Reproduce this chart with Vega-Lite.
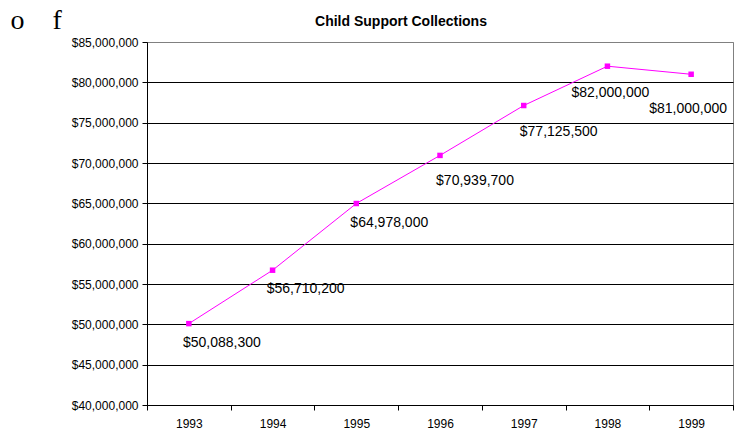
{
  "$schema": "https://vega.github.io/schema/vega-lite/v6.json",
  "width": 586,
  "height": 363,
  "autosize": {"type": "none"},
  "padding": {"left": 147, "top": 42, "right": 6, "bottom": 25},
  "background": "white",
  "config": {"view": {"stroke": "#808080", "strokeWidth": 1}, "font": "Liberation Sans"},
  "title": {"text": "Child Support Collections", "font": "Liberation Sans", "fontSize": 14, "fontWeight": "bold", "color": "#000000", "anchor": "middle", "frame": "group", "dx": -39, "baseline": "alphabetic", "offset": -34},
  "data": {"values": [
    {"year": "1993", "amount": 50088300},
    {"year": "1994", "amount": 56710200},
    {"year": "1995", "amount": 64978000},
    {"year": "1996", "amount": 70939700},
    {"year": "1997", "amount": 77125500},
    {"year": "1998", "amount": 82000000},
    {"year": "1999", "amount": 81000000}
  ]},
  "encoding": {
    "x": {"field": "year", "type": "ordinal", "bandPosition": 0.5,
      "scale": {"type": "band", "paddingInner": 0, "paddingOuter": 0},
      "axis": {"title": null, "labelAngle": 0, "tickBand": "extent", "grid": false, "tickSize": 5, "tickColor": "#000000", "domainColor": "#000000", "labelFont": "Liberation Sans", "labelFontSize": 12, "labelColor": "#000000", "labelPadding": 8}},
    "y": {"field": "amount", "type": "quantitative",
      "scale": {"domain": [40000000, 85000000], "nice": false, "zero": false},
      "axis": {"values": [40000000, 45000000, 50000000, 55000000, 60000000, 65000000, 70000000, 75000000, 80000000, 85000000],
        "format": "$,.0f", "labelFont": "Liberation Sans", "labelFontSize": 12, "labelColor": "#000000", "labelPadding": 4,
        "tickSize": 5, "tickColor": "#000000", "domainColor": "#000000",
        "grid": true, "gridColor": {"condition": {"test": "datum.value == 85000000", "value": "#808080"}, "value": "#000000"}, "gridOpacity": 1,
        "title": "o\u00a0\u00a0\u00a0\u00a0f", "titleFont": "Liberation Serif", "titleFontSize": 28, "titleFontWeight": "normal", "titleColor": "#000000",
        "titleAngle": 0, "titleAlign": "left", "titleBaseline": "alphabetic", "titleX": -137, "titleY": -14}}
  },
  "layer": [
    {"mark": {"type": "line", "color": "#FF00FF", "strokeWidth": 1}},
    {"mark": {"type": "point", "shape": "square", "filled": true, "size": 30, "color": "#FF00FF", "opacity": 1}},
    {"transform": [{"filter": {"field": "year", "oneOf": ["1993", "1994", "1995"]}}],
      "mark": {"type": "text", "dx": 33, "dy": 19, "font": "Liberation Sans", "fontSize": 14, "color": "#000000", "align": "center", "baseline": "middle"},
      "encoding": {"text": {"field": "amount", "type": "quantitative", "format": "$,.0f"}}},
    {"transform": [{"filter": {"field": "year", "oneOf": ["1996", "1997"]}}],
      "mark": {"type": "text", "dx": 35, "dy": 26, "font": "Liberation Sans", "fontSize": 14, "color": "#000000", "align": "center", "baseline": "middle"},
      "encoding": {"text": {"field": "amount", "type": "quantitative", "format": "$,.0f"}}},
    {"transform": [{"filter": {"field": "year", "oneOf": ["1998"]}}],
      "mark": {"type": "text", "dx": 3, "dy": 27, "font": "Liberation Sans", "fontSize": 14, "color": "#000000", "align": "center", "baseline": "middle"},
      "encoding": {"text": {"field": "amount", "type": "quantitative", "format": "$,.0f"}}},
    {"transform": [{"filter": {"field": "year", "oneOf": ["1999"]}}],
      "mark": {"type": "text", "dx": -3, "dy": 35, "font": "Liberation Sans", "fontSize": 14, "color": "#000000", "align": "center", "baseline": "middle"},
      "encoding": {"text": {"field": "amount", "type": "quantitative", "format": "$,.0f"}}}
  ]
}
